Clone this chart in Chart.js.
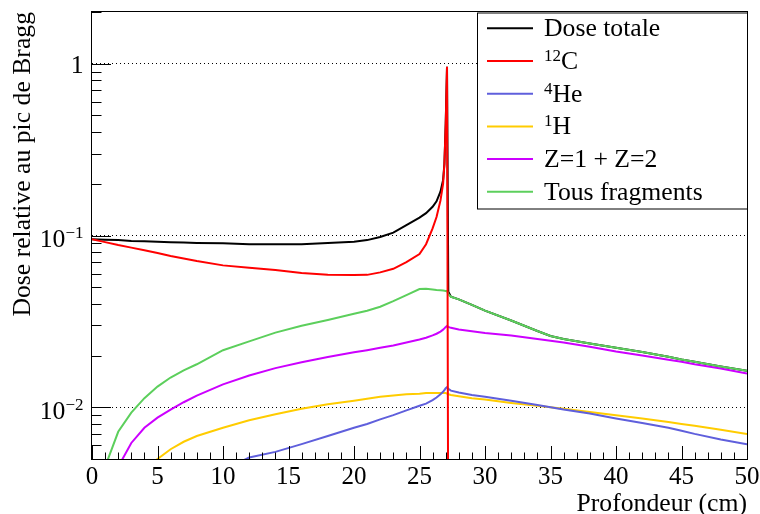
<!DOCTYPE html>
<html>
<head>
<meta charset="utf-8">
<script src="https://cdn.jsdelivr.net/npm/chart.js@4.4.1/dist/chart.umd.min.js"></script>
<style>
  body { margin: 0; background: #fff; }
</style>
</head>
<body>
<canvas id="bragg-chart" width="760" height="514"></canvas>
<script>
// profondeur (cm)
const depth = [0, 1, 2, 3, 4, 5, 6, 7, 8, 10, 12, 14, 16, 18, 20, 21, 22, 23, 24, 25,
  25.5, 26, 26.3, 26.6, 26.8, 26.9, 27, 27.1, 27.2, 27.4, 28, 29, 30, 32, 34, 35, 36,
  38, 40, 42, 44, 45, 46, 48, 50];

const doseTotale = [0.095, 0.0945, 0.094, 0.093, 0.0925, 0.092, 0.0915, 0.091, 0.0905, 0.090,
  0.089, 0.0888, 0.089, 0.0905, 0.092, 0.094, 0.098, 0.104, 0.115, 0.127,
  0.135, 0.147, 0.158, 0.18, 0.21, 0.26, 0.45, 0.96, 0.047, 0.044, 0.0425, 0.0395, 0.0365,
  0.032, 0.0278, 0.026, 0.025, 0.0235, 0.0222, 0.021, 0.0197, 0.019, 0.0184, 0.0173, 0.0163];

const carbone12 = [0.095, 0.0915, 0.088, 0.085, 0.082, 0.079, 0.076, 0.0735, 0.071, 0.067,
  0.065, 0.063, 0.0605, 0.059, 0.0588, 0.059, 0.061, 0.064, 0.070, 0.078,
  0.089, 0.11, 0.128, 0.16, 0.2, 0.26, 0.44, 0.96, 0.001, null, null, null, null,
  null, null, null, null, null, null, null, null, null, null, null, null];

const helium4 = [null, null, null, null, null, null, null, null, null, 0.0043,
  0.0051, 0.0055, 0.0061, 0.0068, 0.0076, 0.0080, 0.0085, 0.0090, 0.0096, 0.0102,
  0.0105, 0.0110, 0.0114, 0.0119, 0.0123, 0.0126, 0.0129, 0.0131, 0.0128, 0.0125, 0.0122, 0.0118, 0.0115,
  0.0109, 0.0103, 0.0100, 0.0097, 0.0092, 0.0086, 0.0081, 0.0076, 0.0073, 0.0070, 0.0065, 0.0061];

const hydrogene1 = [null, null, null, null, 0.0043, 0.0050, 0.0057, 0.0063, 0.0068, 0.0076,
  0.0084, 0.0091, 0.0098, 0.0104, 0.0109, 0.0112, 0.0115, 0.0117, 0.0119, 0.0120,
  0.0121, 0.0121, 0.0121, 0.0121, 0.0121, 0.0121, 0.0121, 0.0120, 0.0119, 0.0118, 0.0116, 0.0113, 0.0111,
  0.0106, 0.0102, 0.0100, 0.0098, 0.0094, 0.0090, 0.0086, 0.0082, 0.0080, 0.0078, 0.0074, 0.0070];

const z1z2 = [null, 0.0032, 0.0045, 0.0062, 0.0076, 0.0087, 0.0097, 0.0107, 0.0117, 0.0136,
  0.0153, 0.0169, 0.0183, 0.0196, 0.0209, 0.0215, 0.0222, 0.0229, 0.0238, 0.0248,
  0.0254, 0.0262, 0.0268, 0.0276, 0.0283, 0.0288, 0.0293, 0.0297, 0.0294, 0.0290, 0.0284, 0.0277, 0.0271,
  0.0262, 0.0250, 0.0244, 0.0238, 0.0225, 0.0211, 0.0200, 0.0189, 0.0184, 0.0178, 0.0168, 0.0157];

const tousFragments = [0.0025, 0.0045, 0.0072, 0.0093, 0.0113, 0.0132, 0.0149, 0.0164, 0.0178, 0.0215,
  0.0242, 0.0272, 0.0298, 0.0322, 0.0350, 0.0365, 0.0385, 0.0415, 0.045, 0.0488,
  0.049, 0.0485, 0.0482, 0.048, 0.0478, 0.0477, 0.0476, 0.0475, 0.0455, 0.044, 0.0425, 0.0395, 0.0365,
  0.032, 0.0278, 0.026, 0.025, 0.0235, 0.0222, 0.021, 0.0197, 0.019, 0.0184, 0.0173, 0.0163];

const seriesNames = ["Dose totale", "^{12}C", "^{4}He", "^{1}H", "Z=1 + Z=2", "Tous fragments"];
const yTickValues = [1, 0.1, 0.01];
const yTickLabels = ["1", "10^{\u22121}", "10^{\u22122}"];

const SERIF = "'Liberation Serif', 'Times New Roman', serif";

function toPoints(values) {
  return depth.map((d, i) => ({ x: d, y: values[i] }));
}

// split "10^{-1}" into normal / superscript pieces
function richParts(str) {
  const out = [];
  const re = /\^\{([^}]*)\}/g;
  let last = 0, m;
  while ((m = re.exec(str))) {
    if (m.index > last) out.push({ t: str.slice(last, m.index), sup: false });
    out.push({ t: m[1], sup: true });
    last = re.lastIndex;
  }
  if (last < str.length) out.push({ t: str.slice(last), sup: false });
  return out;
}

function drawRich(ctx, str, x, y, opts) {
  const size = opts.size, supSize = opts.supSize, raise = opts.raise;
  const parts = richParts(str);
  let width = 0;
  parts.forEach(p => {
    ctx.font = (p.sup ? supSize : size) + "px " + SERIF;
    p.w = ctx.measureText(p.t).width;
    width += p.w;
  });
  let cx = opts.align === "right" ? x - width : x;
  ctx.textAlign = "left";
  ctx.textBaseline = "alphabetic";
  parts.forEach(p => {
    ctx.font = (p.sup ? supSize : size) + "px " + SERIF;
    ctx.fillText(p.t, cx, p.sup ? y - raise : y);
    cx += p.w;
  });
}

// frame, inner ticks, log labels and the legend box
const rootStyle = {
  id: "rootStyle",
  afterDraw(chart) {
    const ctx = chart.ctx;
    const area = chart.chartArea;
    const xs = chart.scales.x, ys = chart.scales.y;
    ctx.save();
    ctx.strokeStyle = "#000";
    ctx.fillStyle = "#000";
    ctx.lineWidth = 1;

    ctx.beginPath();
    for (let v = 0; v <= 50; v++) {
      const px = Math.round(xs.getPixelForValue(v)) + 0.5;
      const len = v % 5 === 0 ? 13 : 6.5;
      ctx.moveTo(px, area.bottom);
      ctx.lineTo(px, area.bottom - len);
    }
    for (let e = -3; e <= 0; e++) {
      for (let k = 1; k <= 9; k++) {
        const v = k * Math.pow(10, e);
        if (v < ys.min || v > ys.max) continue;
        const py = Math.round(ys.getPixelForValue(v)) + 0.5;
        const len = k === 1 ? 19 : 9.5;
        ctx.moveTo(area.left, py);
        ctx.lineTo(area.left + len, py);
      }
    }
    ctx.stroke();

    ctx.strokeRect(Math.round(area.left) - 0.5, Math.round(area.top) - 0.5,
      Math.round(area.right - area.left) + 1, Math.round(area.bottom - area.top) + 1);

    yTickValues.forEach((v, i) => {
      const py = ys.getPixelForValue(v);
      const hasSup = yTickLabels[i].indexOf("^") >= 0;
      drawRich(ctx, yTickLabels[i], area.left - 8.5, py + (hasSup ? 11.5 : 9),
        { size: 25.7, supSize: 17, raise: 9, align: "right" });
    });

    // legend
    const bx = 477, by = 12.5, bw = 270, bh = 196;
    ctx.fillStyle = "#fff";
    ctx.fillRect(bx, by, bw, bh);
    ctx.strokeRect(bx + 0.5, by + 0.5, bw, bh);
    chart.data.datasets.forEach((ds, i) => {
      const rowY = 28.3 + i * 32.7;
      ctx.strokeStyle = ds.borderColor;
      ctx.lineWidth = 2;
      ctx.beginPath();
      ctx.moveTo(487, rowY);
      ctx.lineTo(533, rowY);
      ctx.stroke();
      ctx.fillStyle = "#000";
      drawRich(ctx, ds.label, 544, rowY + 8, { size: 25.7, supSize: 17, raise: 8, align: "left" });
    });
    ctx.restore();
  }
};

const colors = ["#000000", "#ff0000", "#5f5fdc", "#ffcc00", "#cc00ff", "#5ccf5c"];
const values = [doseTotale, carbone12, helium4, hydrogene1, z1z2, tousFragments];
const drawOrder = [6, 1, 3, 4, 5, 2];

const ctx = document.getElementById("bragg-chart").getContext("2d");
const braggChart = new Chart(ctx, {
  type: "line",
  data: {
    datasets: values.map((vals, i) => ({
      label: seriesNames[i],
      data: toPoints(vals),
      borderColor: colors[i],
      backgroundColor: colors[i],
      borderWidth: 2,
      pointRadius: 0,
      tension: 0,
      spanGaps: false,
      clip: 0,
      order: drawOrder[i],
    })),
  },
  options: {
    responsive: false,
    animation: false,
    events: [],
    layout: { padding: { top: 12, right: 13, left: 0, bottom: 0 } },
    plugins: {
      legend: { display: false },
      tooltip: { enabled: false },
    },
    scales: {
      x: {
        type: "linear",
        min: 0,
        max: 50,
        grid: { display: false },
        border: { display: false },
        ticks: {
          stepSize: 5,
          maxRotation: 0,
          autoSkip: false,
          color: "#000",
          padding: -2,
          font: { family: SERIF, size: 25, lineHeight: 1 },
        },
        title: {
          display: true,
          text: "Profondeur (cm)",
          align: "end",
          color: "#000",
          font: { family: SERIF, size: 25.7, lineHeight: 1 },
          padding: { top: 0, bottom: -3 },
        },
        afterFit: (scale) => { scale.height = 55; },
      },
      y: {
        type: "logarithmic",
        min: 0.005,
        max: 2,
        afterBuildTicks: (scale) => {
          scale.ticks = yTickValues.map((v) => ({ value: v }));
        },
        ticks: { display: false },
        grid: { color: "#000", lineWidth: 1, drawTicks: false },
        border: { display: false, dash: [1, 3] },
        title: {
          display: true,
          text: "Dose relative au pic de Bragg",
          align: "end",
          color: "#000",
          font: { family: SERIF, size: 25.7, lineHeight: 1 },
          padding: { top: 10.5, bottom: 0 },
        },
        afterFit: (scale) => { scale.width = 92; },
      },
    },
  },
  plugins: [rootStyle],
});
</script>
</body>
</html>
